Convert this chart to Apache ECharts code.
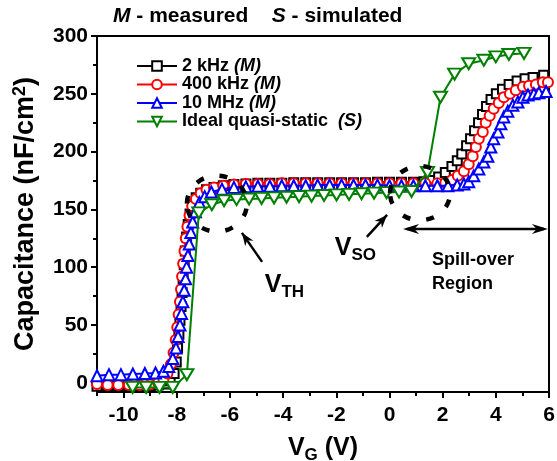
<!DOCTYPE html>
<html><head><meta charset="utf-8">
<script src="https://cdn.jsdelivr.net/npm/echarts@6/dist/echarts.min.js"></script>
<style>html,body{margin:0;padding:0;background:#fff}#c{width:557px;height:461px}</style>
</head><body><div id="c"></div>
<script>
// ---- data (V_G in V, capacitance in nF/cm^2) ----
const seriesNames = ['2 kHz', '400 kHz', '10 MHz', 'Ideal quasi-static'];
const seriesTags = ['(M)', '(M)', '(M)', '(S)'];

const data2kHz = [
  [-11,-3],[-10.6,-3],[-10.2,-3],[-9.8,-3],[-9.4,-3],[-9.0,-3],[-8.7,-2],[-8.45,-1],[-8.25,2],
  [-8.1,8],[-8.02,18],[-7.97,30],[-7.92,42],[-7.88,54],[-7.84,66],[-7.8,78],[-7.76,90],[-7.72,102],
  [-7.68,114],[-7.63,126],[-7.57,137],[-7.5,146],[-7.4,154],[-7.27,160],[-7.1,164],[-6.88,167],
  [-6.6,169],[-6.25,170.5],[-5.85,171.5],[-5.4,172],[-4.95,172.5],[-4.5,172.5],[-4.05,172.5],
  [-3.6,173],[-3.15,173],[-2.7,173],[-2.25,173],[-1.8,173],[-1.35,173],[-0.9,173],[-0.45,173.5],
  [0,173.5],[0.45,173.5],[0.9,173.5],[1.3,174],[1.6,175],[1.85,178],[2.1,182],[2.35,187],
  [2.55,192],[2.72,198],[2.9,205],[3.05,211],[3.2,218],[3.35,225],[3.5,232],[3.65,239],
  [3.82,245],[4.02,250],[4.25,254],[4.5,258],[4.8,261],[5.1,263],[5.4,264],[5.8,266]
];
const data400kHz = [
  [-11,-1],[-10.6,-2],[-10.2,-2],[-9.8,-2],[-9.4,-2],[-9.0,-1.5],[-8.7,0],[-8.5,3],[-8.35,8],
  [-8.22,16],[-8.12,26],[-8.04,37],[-7.98,48],[-7.93,59],[-7.88,70],[-7.84,81],[-7.8,92],
  [-7.76,103],[-7.71,114],[-7.66,125],[-7.6,135],[-7.52,145],[-7.42,153],[-7.28,159],[-7.1,164],
  [-6.88,167],[-6.6,169],[-6.25,170.5],[-5.85,171.5],[-5.4,172],[-4.95,172],[-4.5,172],[-4.05,172.5],
  [-3.6,172.5],[-3.15,172.5],[-2.7,172.5],[-2.25,172.5],[-1.8,172.5],[-1.35,172.5],[-0.9,172.5],
  [-0.45,172.5],[0,172.5],[0.45,172.5],[0.9,172.5],[1.35,172.5],[1.8,172.5],[2.1,173],[2.35,175.5],
  [2.57,179],[2.8,183],[2.98,189],[3.13,196],[3.25,204],[3.36,211],[3.51,217],[3.62,225],[3.77,231],
  [3.92,237],[4.11,242],[4.3,247],[4.53,250],[4.75,253],[5.02,256],[5.25,257],[5.51,258],[5.77,260],[5.96,260]
];
const data10MHz = [
  [-11,6],[-10.55,7],[-10.1,7],[-9.65,7.5],[-9.2,8],[-8.8,8.5],[-8.5,10],[-8.3,14],[-8.15,21],
  [-8.03,30],[-7.95,40],[-7.88,50],[-7.82,60],[-7.77,70],[-7.72,80],[-7.67,90],[-7.63,100],
  [-7.58,110],[-7.53,120],[-7.47,130],[-7.4,139],[-7.3,148],[-7.15,156],[-6.95,161],[-6.7,165],
  [-6.3,167.5],[-5.85,169],[-5.4,169.5],[-4.95,170],[-4.5,170],[-4.05,170.5],[-3.6,170.5],
  [-3.15,170.5],[-2.7,171],[-2.25,171],[-1.8,171],[-1.35,171],[-0.9,171],[-0.45,171],[0,170.5],
  [0.45,170.5],[0.9,170.5],[1.35,170.5],[1.8,170.5],[2.2,170.5],[2.55,171],[2.8,172],[2.98,174],
  [3.17,179],[3.36,185],[3.55,191],[3.7,196],[3.81,204],[3.92,211],[4.08,217],[4.19,224],[4.3,230],
  [4.45,235],[4.64,240],[4.83,243],[5.02,247],[5.21,249],[5.43,250],[5.62,251],[5.89,252]
];
const dataIdeal = [
  [-9.66,-4],[-9.15,-4],[-8.65,-4],[-8.15,-4],[-7.62,7],[-7.17,147],[-6.68,154],[-6.22,157.5],
  [-5.75,158.5],[-5.28,159],[-4.81,159.5],[-4.34,160],[-3.87,160.5],[-3.4,161],[-2.93,161.5],
  [-2.46,162],[-1.99,162.5],[-1.52,163],[-1.05,163.5],[-0.58,164],[-0.11,164.5],[0.36,165],
  [0.83,165.5],[1.43,182],[1.92,247],[2.45,267],[2.98,276],[3.55,279],[4.0,282],[4.49,284],[5.06,285]
];

const xMajorTicks = [-10,-8,-6,-4,-2,0,2,4,6];
const xMinorTicks = [-11,-9,-7,-5,-3,-1,1,3,5];
const yMajorTicks = [0,50,100,150,200,250,300];
const yMinorTicks = [25,75,125,175,225,275];

// ---- annotations (data coordinates) ----
const ellipseVTH = [-6.49, 155];
const ellipseVSO = [1.15, 164];
const arrowVTH = [[-4.79,104.6],[-5.55,129.7]];
const arrowVSO = [[-0.85,126.2],[-0.09,145.2]];
const labelVTH = [-3.95, 84.3];
const labelVSO = [-1.28, 116.5];
const spillArrow = [[0.51,133],[5.96,133]];
const spillText = [1.6, 106.3];
const regionText = [1.6, 85.3];

const FONT = '"Liberation Sans", Arial, sans-serif';
const colors = ['#000000', '#ff0000', '#0000ff', '#008000'];
const symbols = ['rect', 'circle', 'triangle', 'path://M0,0L12,0L6,10.4Z'];
const sizes = [9, 10, 11, [13, 11]];
const allData = [data2kHz, data400kHz, data10MHz, dataIdeal];

const chart = echarts.init(document.getElementById('c'), null, {renderer: 'canvas'});

const series = allData.map((d, i) => ({
  name: seriesNames[i],
  type: 'line',
  data: d,
  symbol: symbols[i],
  symbolSize: sizes[i],
  showAllSymbol: true,
  lineStyle: {color: colors[i], width: 2},
  itemStyle: {color: '#ffffff', borderColor: colors[i], borderWidth: 2},
  emphasis: {disabled: true},
  animation: false,
  z: 2 + i
}));

const rich = {
  n: {fontFamily: FONT, fontWeight: 'bold', fontSize: 18, lineHeight: 18, color: '#000'},
  i: {fontFamily: FONT, fontWeight: 'bold', fontStyle: 'italic', fontSize: 18, lineHeight: 18, color: '#000'}
};

chart.setOption({
  animation: false,
  backgroundColor: '#fff',
  title: {
    text: '{i|M}{n| - measured    }{i|S}{n| - simulated}',
    left: 108, top: 1,
    textStyle: {rich: {
      n: {fontFamily: FONT, fontWeight: 'bold', fontSize: 21, color: '#000'},
      i: {fontFamily: FONT, fontWeight: 'bold', fontStyle: 'italic', fontSize: 21, color: '#000'}
    }}
  },
  legend: {
    orient: 'vertical', left: 136, top: 57, itemGap: 0.5, itemWidth: 40, itemHeight: 12,
    padding: 0,
    data: seriesNames,
    formatter: (name) => {
      const k = seriesNames.indexOf(name);
      const sp = k === 3 ? '  ' : ' ';
      return '{n|' + name + sp + '}{i|' + seriesTags[k] + '}';
    },
    textStyle: {rich: rich}
  },
  grid: {left: 97, right: 8, top: 36, bottom: 69, containLabel: false, outerBoundsMode: 'none',
    show: true, borderColor: '#000', borderWidth: 2, backgroundColor: 'transparent'},
  xAxis: [{
    type: 'value', min: -11, max: 6,
    name: '{v|V}{s|G}{v| (V)}', nameLocation: 'middle', nameGap: 41,
    nameTextStyle: {rich: {
      v: {fontFamily: FONT, fontWeight: 'bold', fontSize: 25, color: '#000'},
      s: {fontFamily: FONT, fontWeight: 'bold', fontSize: 17, color: '#000', padding: [14,0,0,0]}
    }},
    axisLine: {show: true, onZero: false, lineStyle: {color: '#000', width: 2}},
    axisTick: {show: true, customValues: xMajorTicks, length: 6, lineStyle: {color: '#000', width: 2}},
    axisLabel: {customValues: xMajorTicks, margin: 13, fontFamily: FONT, fontWeight: 'bold', fontSize: 21, color: '#000'},
    splitLine: {show: false}
  }, {
    type: 'value', min: -11, max: 6, position: 'bottom',
    axisLine: {show: false, onZero: false},
    axisTick: {show: true, customValues: xMinorTicks, length: 4, lineStyle: {color: '#000', width: 2}},
    axisLabel: {show: false},
    splitLine: {show: false}
  }],
  yAxis: [{
    type: 'value', min: -8, max: 300,
    name: 'Capacitance (nF/cm{s|2})', nameLocation: 'middle', nameGap: 56,
    nameTextStyle: {fontFamily: FONT, fontWeight: 'bold', fontSize: 27, color: '#000',
      rich: {s: {fontFamily: FONT, fontWeight: 'bold', fontSize: 18, color: '#000', padding: [0,0,12,0]}}},
    axisLine: {show: true, onZero: false, lineStyle: {color: '#000', width: 2}},
    axisTick: {show: true, customValues: yMajorTicks, length: 6, lineStyle: {color: '#000', width: 2}},
    axisLabel: {customValues: yMajorTicks, margin: 9, fontFamily: FONT, fontWeight: 'bold', fontSize: 21, color: '#000'},
    splitLine: {show: false}
  }, {
    type: 'value', min: -8, max: 300, position: 'left',
    axisLine: {show: false, onZero: false},
    axisTick: {show: true, customValues: yMinorTicks, length: 4, lineStyle: {color: '#000', width: 2}},
    axisLabel: {show: false},
    splitLine: {show: false}
  }],
  series: series
});

// ---- annotations placed through the axes ----
function px(p) { return chart.convertToPixel({gridIndex: 0}, p); }
function head(tip, from, len, w) {
  const dx = tip[0]-from[0], dy = tip[1]-from[1];
  const L = Math.hypot(dx, dy), ux = dx/L, uy = dy/L, nx = -uy, ny = ux;
  return [tip,
    [tip[0]-ux*len+nx*w, tip[1]-uy*len+ny*w],
    [tip[0]-ux*len*0.7, tip[1]-uy*len*0.7],
    [tip[0]-ux*len-nx*w, tip[1]-uy*len-ny*w]];
}
const g = [];
[ellipseVTH, ellipseVSO].forEach((c, k) => {
  const p = px(c);
  g.push({type: 'ellipse', shape: {cx: p[0], cy: p[1], rx: 30, ry: k ? 27 : 28},
    style: {fill: null, stroke: '#000', lineWidth: 4.5, lineDash: [8, 16]}, z: 100});
});
[arrowVTH, arrowVSO].forEach(a => {
  const t = px(a[0]), h = px(a[1]);
  g.push({type: 'line', shape: {x1: t[0], y1: t[1], x2: h[0], y2: h[1]}, style: {stroke: '#000', lineWidth: 2.5}, z: 100});
  g.push({type: 'polygon', shape: {points: head(h, t, 13, 5)}, style: {fill: '#000'}, z: 100});
});
{
  const a = px(spillArrow[0]), b = px(spillArrow[1]);
  g.push({type: 'line', shape: {x1: a[0]+4, y1: a[1], x2: b[0]-4, y2: b[1]}, style: {stroke: '#000', lineWidth: 2.5}, z: 100});
  g.push({type: 'polygon', shape: {points: head(a, b, 16, 5)}, style: {fill: '#000'}, z: 100});
  g.push({type: 'polygon', shape: {points: head(b, a, 16, 5)}, style: {fill: '#000'}, z: 100});
}
const subRich = {
  v: {fontFamily: FONT, fontWeight: 'bold', fontSize: 25, fill: '#000'},
  s: {fontFamily: FONT, fontWeight: 'bold', fontSize: 17, fill: '#000', padding: [14,0,0,0]}
};
[[labelVTH, 'TH'], [labelVSO, 'SO']].forEach(([c, t]) => {
  const p = px(c);
  g.push({type: 'text', x: p[0], y: p[1], style: {text: '{v|V}{s|' + t + '}', rich: subRich, align: 'center', verticalAlign: 'middle'}, z: 100});
});
[[spillText, 'Spill-over'], [regionText, 'Region']].forEach(([c, t]) => {
  const p = px(c);
  g.push({type: 'text', x: p[0], y: p[1], style: {text: t, fontFamily: FONT, fontWeight: 'bold', fontSize: 18, fill: '#000', align: 'left', verticalAlign: 'middle'}, z: 100});
});
chart.setOption({graphic: g});
</script>
</body></html>
